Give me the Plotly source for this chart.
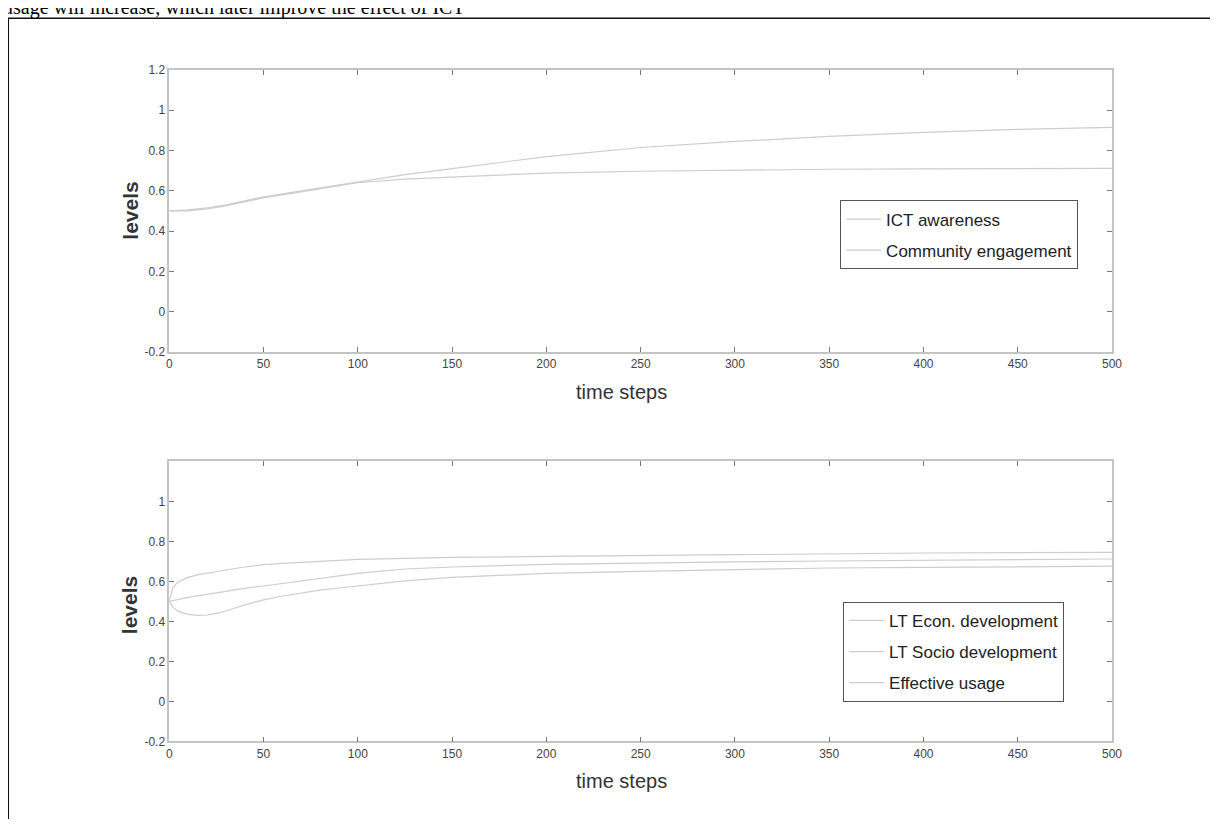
import plotly.graph_objects as go

# ---------------- data ----------------
t_top = [0, 10, 20, 30, 40, 50, 60, 70, 80, 90, 100, 125, 150, 175, 200, 250, 300, 350, 400, 450, 500]
ict_awareness = [0.50, 0.505, 0.515, 0.53, 0.55, 0.57, 0.585, 0.60, 0.615, 0.63, 0.645, 0.68, 0.71, 0.74,
                 0.77, 0.815, 0.845, 0.87, 0.89, 0.905, 0.915]
community_engagement = [0.50, 0.50, 0.51, 0.525, 0.545, 0.565, 0.58, 0.595, 0.61, 0.625, 0.64, 0.658, 0.668,
                        0.68, 0.688, 0.697, 0.703, 0.707, 0.709, 0.71, 0.711]

t_bot = [0, 2, 5, 10, 15, 20, 25, 30, 40, 50, 60, 70, 80, 90, 100, 125, 150, 200, 250, 300, 350, 400, 450, 500]
lt_econ = [0.50, 0.57, 0.60, 0.62, 0.633, 0.642, 0.65, 0.657, 0.672, 0.684, 0.69, 0.695, 0.70, 0.705, 0.71,
           0.715, 0.72, 0.725, 0.73, 0.735, 0.74, 0.742, 0.744, 0.745]
lt_socio = [0.50, 0.505, 0.51, 0.52, 0.528, 0.535, 0.542, 0.55, 0.565, 0.577, 0.59, 0.60, 0.615, 0.628, 0.64,
            0.662, 0.672, 0.685, 0.693, 0.698, 0.702, 0.706, 0.709, 0.712]
effective_usage = [0.50, 0.47, 0.45, 0.435, 0.43, 0.432, 0.44, 0.452, 0.482, 0.508, 0.527, 0.543, 0.556,
                   0.567, 0.577, 0.603, 0.62, 0.64, 0.65, 0.66, 0.667, 0.67, 0.673, 0.676]

x_ticks = [0, 50, 100, 150, 200, 250, 300, 350, 400, 450, 500]
y_ticks_top = [1.2, 1, 0.8, 0.6, 0.4, 0.2, 0, -0.2]
y_text_top = ["1.2", "1", "0.8", "0.6", "0.4", "0.2", "0", "-0.2"]
y_ticks_bot = [1, 0.8, 0.6, 0.4, 0.2, 0, -0.2]
y_text_bot = ["1", "0.8", "0.6", "0.4", "0.2", "0", "-0.2"]

caption = "usage will increase, which later improve the effect of ICT"

# ---------------- figure ----------------
OFF = 8                      # page body margin
W, H = 1218 - 2 * OFF, 827 - 2 * OFF
# measured mapping of the photographed page: screen = a + s * design
AX, SX = 2.8, 0.9894
AY, SY = 4.9, 0.9866
def px(x):                   # target screen x -> paper
    r = (x - AX) / SX
    return (r - OFF) / W
def py(y):                   # target screen y -> paper
    r = (y - AY) / SY
    return 1 - (r - OFF) / H

LINE = dict(color="#cdcdcd", width=1.2)
fig = go.Figure()
fig.add_trace(go.Scatter(x=t_top, y=ict_awareness, mode="lines", name="ICT awareness",
                         line=LINE, xaxis="x", yaxis="y", legend="legend", legendgroup="a"))
fig.add_trace(go.Scatter(x=t_top, y=community_engagement, mode="lines", name="Community engagement",
                         line=LINE, xaxis="x", yaxis="y", legend="legend", legendgroup="b"))
fig.add_trace(go.Scatter(x=t_bot, y=lt_econ, mode="lines", name="LT Econ. development",
                         line=LINE, xaxis="x2", yaxis="y2", legend="legend2", legendgroup="c"))
fig.add_trace(go.Scatter(x=t_bot, y=lt_socio, mode="lines", name="LT Socio development",
                         line=LINE, xaxis="x2", yaxis="y2", legend="legend2", legendgroup="d"))
fig.add_trace(go.Scatter(x=t_bot, y=effective_usage, mode="lines", name="Effective usage",
                         line=LINE, xaxis="x2", yaxis="y2", legend="legend2", legendgroup="e"))

tickfont = dict(family="Liberation Sans, Arial", size=12, color="#444")
ax_common = dict(showline=True, linecolor="#c4c4c4", linewidth=1.5, mirror="ticks",
                 ticks="inside", ticklen=5, tickcolor="#777", tickwidth=1,
                 showgrid=False, zeroline=False, tickfont=tickfont)

xdom = [px(169), px(1112)]
legend_font = dict(family="Liberation Sans, Arial", size=17, color="#222")
fig.update_layout(
    width=W, height=H,
    margin=dict(l=0, r=0, t=0, b=0),
    paper_bgcolor="white", plot_bgcolor="white",
    xaxis=dict(domain=xdom, range=[0, 500], tickvals=x_ticks, anchor="y", **ax_common),
    yaxis=dict(domain=[py(351), py(68)], range=[-0.2, 1.2], tickvals=y_ticks_top,
               ticktext=y_text_top, anchor="x", **ax_common),
    xaxis2=dict(domain=xdom, range=[0, 500], tickvals=x_ticks, anchor="y2", **ax_common),
    yaxis2=dict(domain=[py(742), py(461)], range=[-0.2, 1.2], tickvals=y_ticks_bot,
                ticktext=y_text_bot, anchor="x2", **ax_common),
    legend=dict(x=px(840), y=py(199), xanchor="left", yanchor="top",
                bgcolor="white", bordercolor="#555", borderwidth=1,
                font=legend_font, tracegroupgap=6, itemwidth=35),
    legend2=dict(x=px(843), y=py(602), xanchor="left", yanchor="top",
                 bgcolor="white", bordercolor="#555", borderwidth=1,
                 font=legend_font, tracegroupgap=6, itemwidth=35),
    showlegend=True,
)

title_font = dict(family="Liberation Sans, Arial", size=20, color="#333")
levels_font = dict(family="Liberation Sans, Arial", size=21, color="#333")
annots = [
    dict(text="time steps", x=px(621), y=py(391), font=title_font),
    dict(text="time steps", x=px(621), y=py(782), font=title_font),
    dict(text="<b>levels</b>", x=px(130), y=py(209), font=levels_font, textangle=-90),
    dict(text="<b>levels</b>", x=px(130), y=py(605), font=levels_font, textangle=-90),
    dict(text=caption, x=px(1), y=py(5), xanchor="left", yanchor="middle",
         font=dict(family="Liberation Serif, Times New Roman", size=20, color="#000")),
]
for a in annots:
    a.setdefault("xanchor", "center")
    a.setdefault("yanchor", "middle")
    fig.add_annotation(xref="paper", yref="paper", showarrow=False, **a)

# page frame around the figure
fig.add_shape(type="rect", xref="paper", yref="paper",
              x0=px(8), x1=px(1222), y0=py(845), y1=py(16),
              line=dict(color="#111", width=1.5), fillcolor="rgba(0,0,0,0)")

fig.write_html("out.html")
